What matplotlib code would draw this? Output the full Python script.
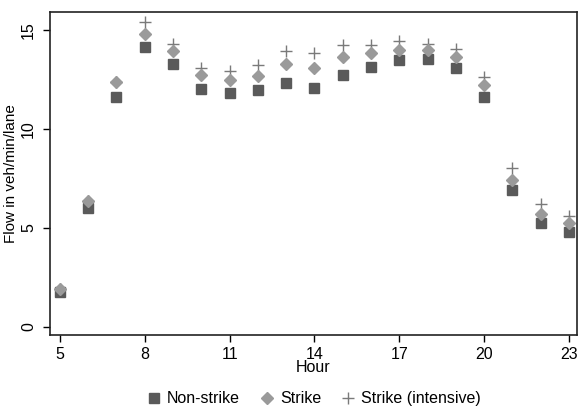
import matplotlib
matplotlib.use("Agg")
import matplotlib.pyplot as plt

plt.rcParams['font.family'] = ['Liberation Sans', 'DejaVu Sans']

hours = [5, 6, 7, 8, 9, 10, 11, 12, 13, 14, 15, 16, 17, 18, 19, 20, 21, 22, 23]
non_strike = [1.78, 6.02, 11.63, 14.14, 13.25, 12.02, 11.83, 11.97, 12.29, 12.04,
              12.74, 13.13, 13.45, 13.52, 13.07, 11.63, 6.92, 5.24, 4.80]
strike = [1.90, 6.35, 12.36, 14.80, 13.94, 12.73, 12.46, 12.66, 13.27, 13.07,
          13.64, 13.85, 13.99, 13.99, 13.64, 12.22, 7.42, 5.71, 5.24]
strike_int = [1.90, 6.35, 12.36, 15.38, 14.30, 13.07, 12.90, 13.23, 13.95, 13.82,
              14.22, 14.22, 14.41, 14.29, 14.04, 12.61, 8.00, 6.21, 5.62]

xticks = [5, 8, 11, 14, 17, 20, 23]
yticks = [0, 5, 10, 15]


def main():
    fig = plt.figure(figsize=(5.85, 4.12), dpi=100)
    ax = fig.add_axes([0.0855, 0.187, 0.9005, 0.784])

    ax.plot(hours, non_strike, linestyle='none', marker='s', markersize=7.6,
            color='#5a5a5a', label='Non-strike', zorder=3)
    ax.plot(hours, strike, linestyle='none', marker='D', markersize=6.4,
            color='#9a9a9a', label='Strike', zorder=4)
    # plus sits under the diamonds where they overlap (hours 5-7)
    ax.plot(hours, strike_int, linestyle='none', marker='+', markersize=8.0,
            markeredgewidth=1.0, color='#7a7a7a', label='Strike (intensive)', zorder=2)

    ax.set_xlim(4.65, 23.28)
    ax.set_ylim(-0.4, 15.9)
    ax.set_xticks(xticks)
    ax.set_yticks(yticks)
    ax.tick_params(direction='out', length=5, width=1, labelsize=11.5, colors='black')
    ax.tick_params(axis='y', pad=5)
    for lab in ax.get_yticklabels():
        lab.set_rotation(90)
        lab.set_va('center')
    for s in ax.spines.values():
        s.set_linewidth(1.2)
        s.set_color('#222222')

    ax.set_xlabel('Hour', fontsize=11.5, labelpad=-1)
    ax.set_ylabel('Flow in veh/min/lane', fontsize=11, labelpad=2)

    fig.legend(loc='center', bbox_to_anchor=(0.536, 0.032), ncol=3,
               frameon=False, fontsize=11.5, handletextpad=0.3, columnspacing=1.2,
               handlelength=1.0)

    fig.savefig('out.png', dpi=100)


if __name__ == '__main__':
    main()
